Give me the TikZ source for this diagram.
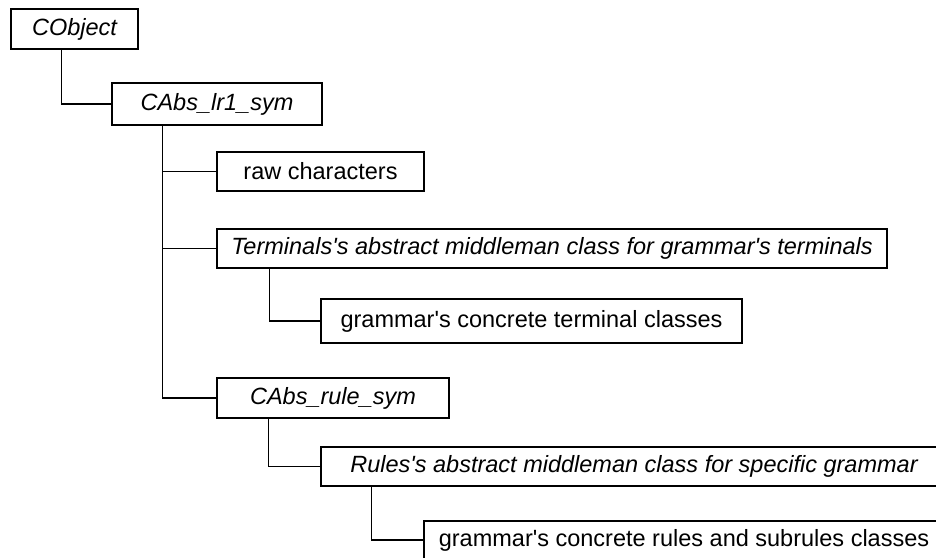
\documentclass[tikz,border=0pt]{standalone}
\usepackage{fontspec}
\setmainfont{Liberation Sans}
\usetikzlibrary{calc}
\newcommand{\apos}{\textquotesingle}
\begin{document}
\begin{tikzpicture}[x=1pt,y=-1pt,
  classbox/.style={draw=black, line width=1.4pt, fill=white, inner sep=0pt,
    font=\fontsize{23.5}{28}\selectfont, anchor=center},
  abstractbox/.style={classbox, font=\fontsize{23.5}{28}\selectfont\itshape},
  link/.style={draw=black, line width=1.4pt}]
\useasboundingbox (0,0) rectangle (936,557);
\clip (0,0) rectangle (936,557);

% class nodes
\node[abstractbox, minimum width=127pt, minimum height=40pt] (obj)   at (74.5,29)  {CObject};
\node[abstractbox, minimum width=210pt, minimum height=42pt] (lr1)   at (217,104)  {CAbs\_lr1\_sym};
\node[classbox,    minimum width=207pt, minimum height=39pt] (raw)   at (320.5,171.5) {raw characters};
\node[abstractbox, minimum width=670pt, minimum height=39pt] (term)  at (552,248.5) {Terminals\apos s abstract middleman class for grammar\apos s terminals};
\node[classbox,    minimum width=421pt, minimum height=44pt] (termc) at (531.5,321) {grammar\apos s concrete terminal classes};
\node[abstractbox, minimum width=232pt, minimum height=40pt] (rule)  at (333,398)  {CAbs\_rule\_sym};
\node[abstractbox, minimum width=626pt, minimum height=39pt] (rules) at (634,466.5) {Rules\apos s abstract middleman class for specific grammar};
\node[classbox,    minimum width=520pt, minimum height=38pt] (rulesc) at (684,540) {grammar\apos s concrete rules and subrules classes};

% inheritance connectors
\path[link] ($(obj.south west)+(51,0)$)  |- (lr1.west);
\path[link] ($(lr1.south west)+(51,0)$)  |- (raw.west);
\path[link] ($(lr1.south west)+(51,0)$)  |- (term.west);
\path[link] ($(lr1.south west)+(51,0)$)  |- (rule.west);
\path[link] ($(term.south west)+(53,0)$) |- (termc.west);
\path[link] ($(rule.south west)+(52,0)$) |- (rules.west);
\path[link] ($(rules.south west)+(51,0)$) |- (rulesc.west);
\end{tikzpicture}
\end{document}
